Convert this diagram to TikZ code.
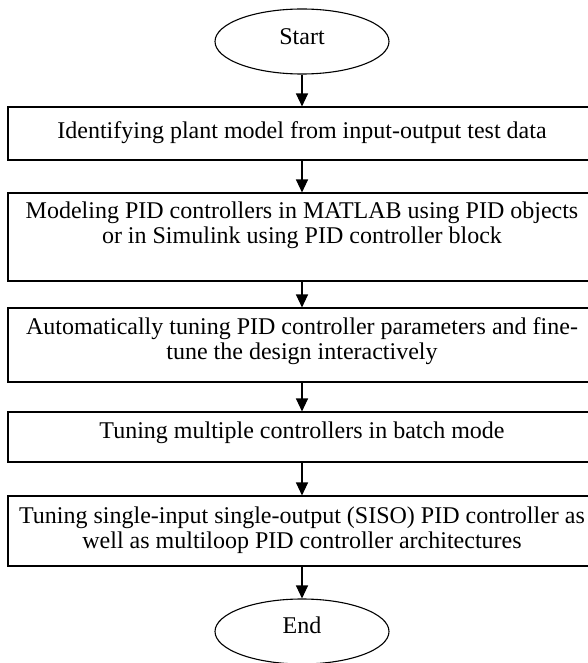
\documentclass[tikz,border=0pt]{standalone}
\usepackage{fontspec}
\setmainfont{Liberation Serif}
\usetikzlibrary{shapes.geometric,arrows.meta}
\begin{document}
\begin{tikzpicture}[x=1pt,y=-1pt,
  box/.style={draw=black,line width=1.1pt,minimum width=588pt,inner sep=0pt},
  term/.style={draw=black,ellipse,line width=1.1pt,inner sep=0pt,minimum width=174pt,minimum height=65pt},
  lbl/.style={font=\fontsize{24}{24.5}\selectfont,align=center,inner sep=0pt},
  arr/.style={line width=1.2pt,-{Triangle[length=13pt,width=12pt]}}]
\useasboundingbox (0,0) rectangle (588,663);
\node[term] (start) at (302,41.5) {};
\node[lbl] (tstart) at (302,37) {Start};
\node[box,minimum height=53pt] (b1) at (302,133.5) {};
\node[lbl] (t1) at (302,133) {Identifying plant model from input-output test data};
\node[box,minimum height=88pt] (b2) at (302,237) {};
\node[lbl] (t2) at (302,225.5) {Modeling PID controllers in MATLAB using PID objects\\or in Simulink using PID controller block};
\node[box,minimum height=74pt] (b3) at (302,345) {};
\node[lbl] (t3) at (302,341) {Automatically tuning PID controller parameters and fine-\\tune the design interactively};
\node[box,minimum height=50pt] (b4) at (302,437) {};
\node[lbl] (t4) at (302,433) {Tuning multiple controllers in batch mode};
\node[box,minimum height=70pt] (b5) at (302,531) {};
\node[lbl] (t5) at (302,530) {Tuning single-input single-output (SISO) PID controller as\\well as multiloop PID controller architectures};
\node[term] (end) at (302,631.5) {};
\node[lbl] (tend) at (302,625) {End};
\draw[arr] (start.south) -- (b1.north);
\draw[arr] (b1.south) -- (b2.north);
\draw[arr] (b2.south) -- (b3.north);
\draw[arr] (b3.south) -- (b4.north);
\draw[arr] (b4.south) -- (b5.north);
\draw[arr] (b5.south) -- (end.north);
\end{tikzpicture}
\end{document}
